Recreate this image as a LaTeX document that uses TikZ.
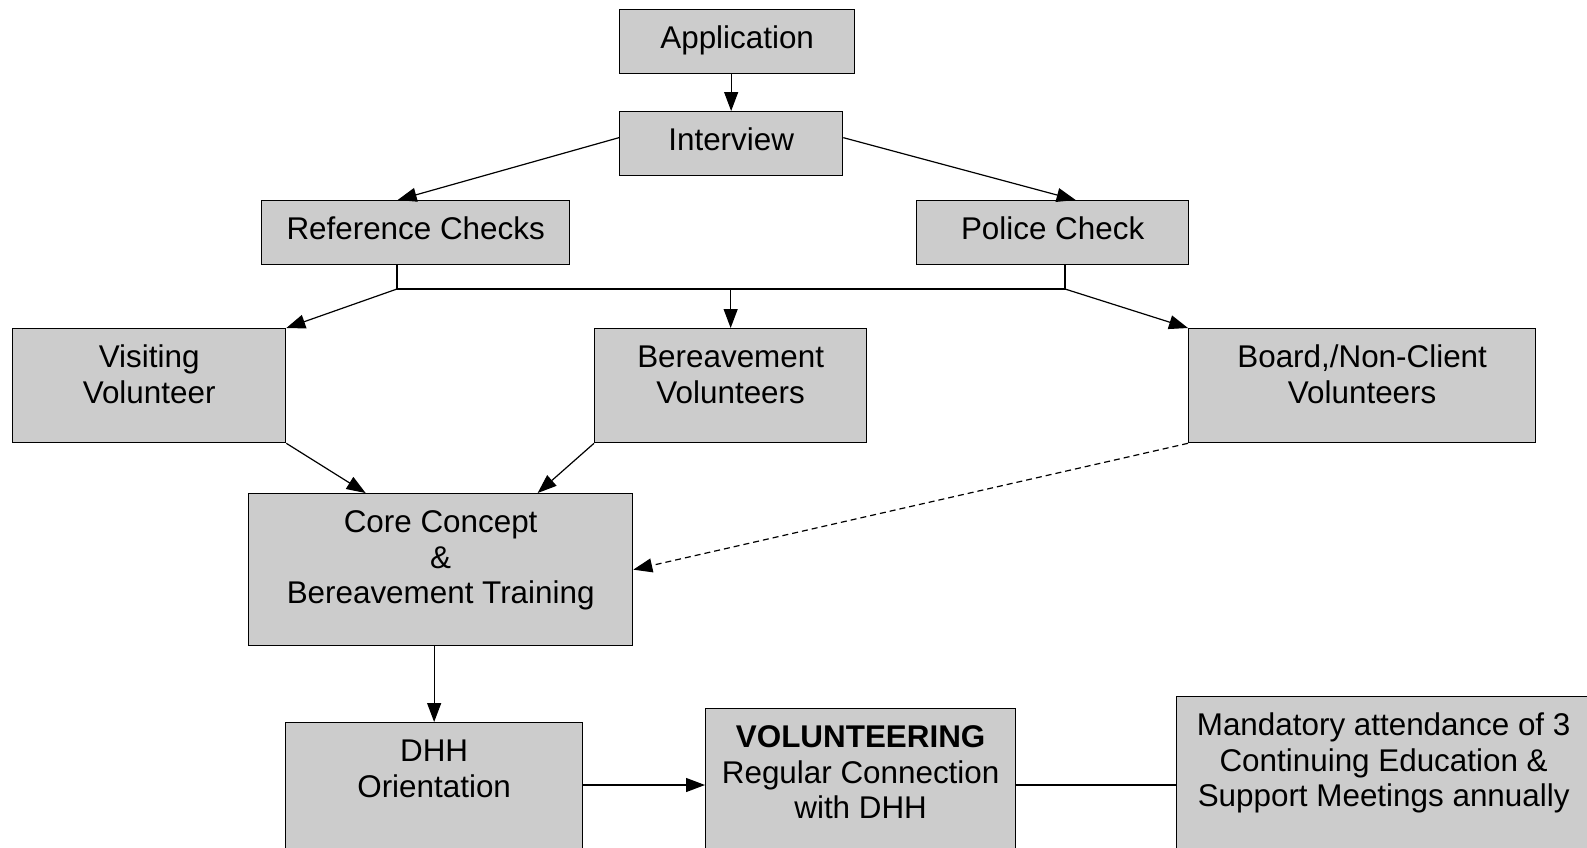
\documentclass[tikz,border=0pt]{standalone}
\usepackage{fontspec}
\setmainfont{Liberation Sans}
\usetikzlibrary{arrows.meta,calc}
\newcommand\bxt[3]{\parbox[t][#2pt][t]{#1pt}{\centering\rule{0pt}{39pt}#3}}
\begin{document}
\begin{tikzpicture}[x=1pt,y=-1pt,
  box/.style={draw=black, fill=black!20, line width=1.3pt, inner sep=0pt, anchor=north west,
    font=\fontsize{31.4}{35.5}\selectfont},
  conn/.style={line width=1.2pt, -{Triangle[length=19pt,width=14pt]}},
  plain/.style={line width=1.2pt},
  dashline/.style={dash pattern=on 6pt off 4pt}]
\clip (0,0) rectangle (1587,847);
\fill[white] (0,0) rectangle (1587,847);
% boxes
\node[box] (app) at (619,9) {\bxt{235}{64}{Application}};
\node[box] (int) at (619,111) {\bxt{223}{64}{Interview}};
\node[box] (ref) at (261,200) {\bxt{308}{64}{Reference Checks}};
\node[box] (pol) at (916,200) {\bxt{272}{64}{Police Check}};
\node[box] (vis) at (12,328) {\bxt{273}{114}{Visiting\\Volunteer}};
\node[box] (ber) at (594,328) {\bxt{272}{114}{Bereavement\\Volunteers}};
\node[box] (brd) at (1188,328) {\bxt{347}{114}{Board,/Non-Client\\Volunteers}};
\node[box] (core) at (248,493) {\bxt{384}{152}{Core Concept\\\&\\Bereavement Training}};
\node[box] (dhh) at (285,722) {\bxt{297}{150}{DHH\\Orientation}};
\node[box] (vol) at (705,708) {\bxt{310}{160}{\textbf{VOLUNTEERING}\\Regular Connection\\with DHH}};
\node[box] (man) at (1176,696) {\bxt{414}{170}{Mandatory attendance of 3\\Continuing Education \&\\Support Meetings annually}};
% junction coordinates
\coordinate (rd) at (397,289);
\coordinate (pd) at (1065,289);
\coordinate (dv) at ([yshift=-63pt]dhh.north east);
% connectors
\draw[conn] (app.south -| int.north) -- (int.north);
\draw[conn] ([yshift=6pt]int.west) -- ([xshift=-18pt]ref.north);
\draw[conn] ([yshift=6pt]int.east) -- ([xshift=23pt]pol.north);
\draw[plain] (ref.south -| rd) -- (rd) -- (pd) -- (pol.south -| pd);
\draw[conn] (rd) -- (vis.north east);
\draw[conn] (ber.north |- rd) -- (ber.north);
\draw[conn] (pd) -- (brd.north west);
\draw[conn] (vis.south east) -- ([xshift=-75pt]core.north);
\draw[conn] (ber.south west) -- ([xshift=97pt]core.north);
\draw[conn,dashline] (brd.south west) -- (core.east);
\draw[conn] (core.south -| dhh.north) -- (dhh.north);
\draw[conn] (dv) -- (vol.west |- dv);
\draw[line width=2pt] (vol.east |- dv) -- (man.west |- dv);
\end{tikzpicture}
\end{document}
